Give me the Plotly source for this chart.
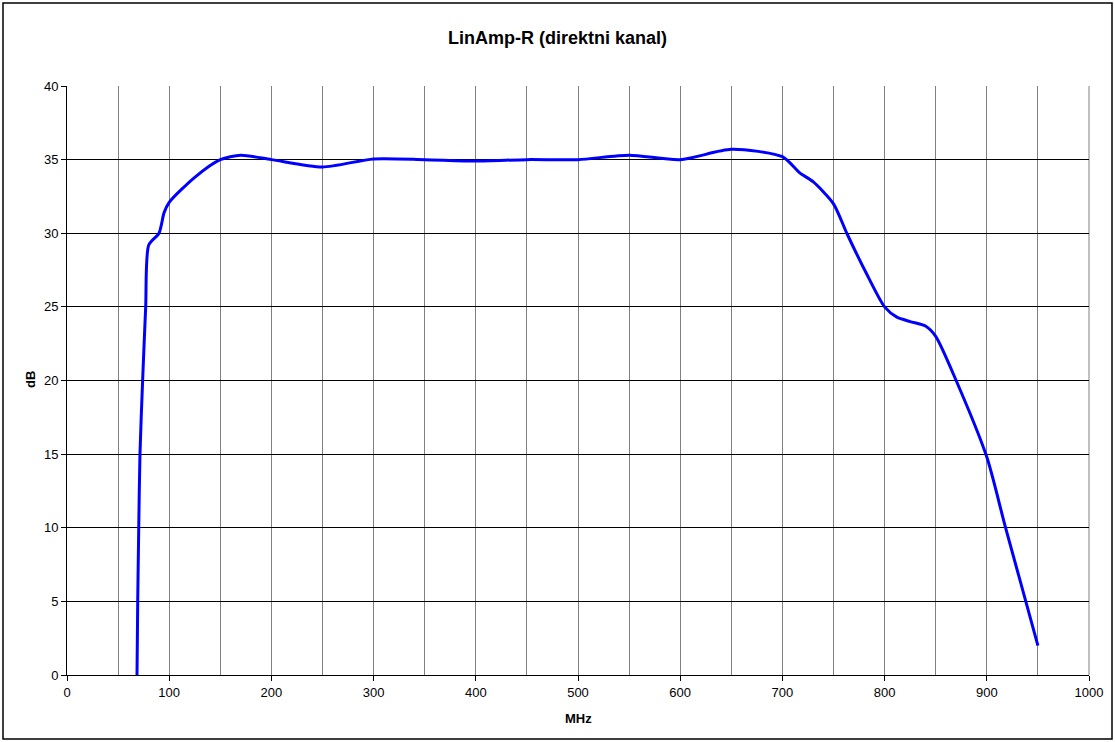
import plotly.graph_objects as go

freq_mhz = [68.5, 69.2, 70.2, 71.4, 74, 77, 80, 90, 95, 100, 125, 150, 170, 200,
            250, 300, 350, 400, 450, 500, 550, 600, 650, 700, 717, 730, 750, 763,
            782, 800, 812, 825, 840, 850, 870, 900, 918, 950]
gain_db = [0, 5, 10, 15, 20, 25, 29.2, 30.0, 31.4, 32.1, 33.8, 35.0, 35.3, 35.0,
           34.5, 35.05, 35.0, 34.9, 35.0, 35.0, 35.3, 35.0, 35.7, 35.2, 34.1, 33.5,
           32.0, 30.0, 27.3, 25.0, 24.3, 24.0, 23.7, 23.0, 20.0, 14.8, 10.1, 2.0]

x_ticks = list(range(0, 1001, 100))
y_ticks = list(range(0, 41, 5))

FONT = "Liberation Sans, Arial, sans-serif"

fig = go.Figure()
fig.add_trace(go.Scatter(
    x=freq_mhz, y=gain_db, mode="lines",
    line=dict(color="#0000FF", width=3, shape="spline", smoothing=0.7),
    hoverinfo="x+y", showlegend=False,
))

fig.update_layout(
    width=1115, height=742,
    paper_bgcolor="white", plot_bgcolor="white",
    margin=dict(l=67, r=26, t=86, b=67),
    font=dict(family=FONT, size=13, color="black"),
    title=dict(text="<b>LinAmp-R (direktni kanal)</b>", x=0.5, xanchor="center",
               y=1 - 38 / 742, yanchor="middle",
               font=dict(family=FONT, size=18, color="black")),
    xaxis=dict(range=[0, 1000], tickvals=x_ticks, ticks="outside", ticklen=5,
               tickcolor="black", showline=True, linecolor="black", linewidth=1,
               showgrid=False, zeroline=False, mirror=False,
               tickfont=dict(family=FONT, size=13)),
    yaxis=dict(range=[0, 40], tickvals=y_ticks, ticks="outside", ticklen=5,
               tickcolor="black", showline=True, linecolor="black", linewidth=1,
               showgrid=True, gridcolor="black", gridwidth=1, zeroline=False,
               tickfont=dict(family=FONT, size=13)),
)

# vertical minor gridlines every 50 MHz (gray)
fig.update_xaxes(minor=dict(dtick=50, tick0=0, showgrid=True, gridcolor="#808080",
                            gridwidth=1, ticks=""))

# plot area right border
fig.add_shape(type="line", xref="paper", yref="paper", x0=1, x1=1, y0=0, y1=1,
              line=dict(color="#808080", width=1), layer="below")

# outer chart border
fig.add_shape(type="rect", xref="paper", yref="paper",
              x0=(3 - 67) / 1022, x1=(1112 - 67) / 1022,
              y0=(675 - 739) / 589, y1=(675 - 3) / 589,
              line=dict(color="black", width=1.5), fillcolor="rgba(0,0,0,0)")

fig.add_annotation(text="<b>MHz</b>", xref="paper", yref="paper",
                   x=0.5, y=(675 - 718) / 589, showarrow=False,
                   xanchor="center", yanchor="middle",
                   font=dict(family=FONT, size=13, color="black"))
fig.add_annotation(text="<b>dB</b>", xref="paper", yref="paper",
                   x=(30 - 67) / 1022, y=(675 - 380) / 589, showarrow=False,
                   textangle=-90, xanchor="center", yanchor="middle",
                   font=dict(family=FONT, size=13, color="black"))

fig.write_html("out.html", config={"displayModeBar": False},
               post_script="document.body.style.margin='0';document.body.style.overflow='hidden';")
